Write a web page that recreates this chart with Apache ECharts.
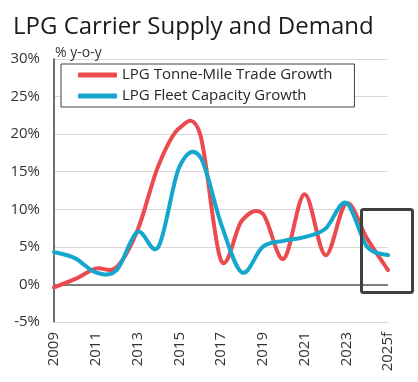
<!DOCTYPE html>
<html>
<head>
<meta charset="utf-8">
<script src="https://cdn.jsdelivr.net/npm/echarts@6/dist/echarts.min.js"></script>
<style>html,body{margin:0;padding:0;background:#fff;}#c{width:418px;height:382px;}</style>
</head>
<body>
<div id="c"></div>
<script>
const years = ['2009','2010','2011','2012','2013','2014','2015','2016','2017','2018','2019','2020','2021','2022','2023','2024','2025f'];
const tradeGrowth = [-0.4, 0.7, 2.1, 2.3, 7.2, 15.8, 20.8, 20.0, 3.2, 8.5, 9.4, 3.4, 12.0, 3.9, 10.8, 6.1, 1.9];
const fleetGrowth = [4.3, 3.5, 1.6, 1.9, 7.0, 5.0, 15.6, 17.0, 8.1, 1.6, 5.0, 5.8, 6.3, 7.4, 10.85, 5.0, 3.9];
const seriesNames = ['LPG Tonne-Mile Trade Growth', 'LPG Fleet Capacity Growth'];

const FONT = 'Open Sans';

// Smooth (Catmull-Rom) line drawn through the axis scales
function splineSeries(name, values, color) {
  return {
    name: name, type: 'custom', coordinateSystem: 'cartesian2d',
    encode: {x: 0, y: 1},
    data: values.map((v, i) => [i, v]),
    itemStyle: {color: color},
    renderItem: function (params, api) {
      if (params.dataIndex !== 0) return null;
      const p = values.map((v, i) => api.coord([i, v]));
      const n = p.length;
      let d = 'M' + p[0][0] + ' ' + p[0][1];
      for (let i = 0; i < n - 1; i++) {
        const p0 = p[Math.max(i - 1, 0)], p1 = p[i], p2 = p[i + 1], p3 = p[Math.min(i + 2, n - 1)];
        const c1x = p1[0] + (p2[0] - p0[0]) / 6, c1y = p1[1] + (p2[1] - p0[1]) / 6;
        const c2x = p2[0] - (p3[0] - p1[0]) / 6, c2y = p2[1] - (p3[1] - p1[1]) / 6;
        d += ' C' + c1x + ' ' + c1y + ' ' + c2x + ' ' + c2y + ' ' + p2[0] + ' ' + p2[1];
      }
      return {
        type: 'path', shape: {pathData: d},
        style: {fill: 'none', stroke: color, lineWidth: 4, lineJoin: 'round', lineCap: 'round'}
      };
    }
  };
}

const red = splineSeries(seriesNames[0], tradeGrowth, '#EB4A4F');
red.markLine = {silent: true, symbol: 'none', label: {show: false}, z: 1,
  lineStyle: {color: '#7f7f7f', width: 2, type: 'solid'}, data: [{yAxis: 0}]};
const blue = splineSeries(seriesNames[1], fleetGrowth, '#14A7CD');

const chart = echarts.init(document.getElementById('c'), null, {renderer: 'canvas'});
chart.setOption({
  animation: false,
  backgroundColor: '#ffffff',
  textStyle: {fontFamily: FONT},
  title: [
    {text: 'LPG Carrier Supply and Demand', left: 8, top: 10,
     textStyle: {fontFamily: FONT, fontSize: 24, fontWeight: 'normal', color: '#1a1a1a'}},
    {text: '% y-o-y', left: 50, top: 41,
     textStyle: {fontFamily: FONT, fontSize: 14, fontWeight: 'normal', color: '#333'}}
  ],
  grid: {left: 54, right: 30, top: 59, bottom: 60},
  legend: {
    orient: 'vertical', left: 61, top: 64,
    backgroundColor: '#fff', borderColor: '#404040', borderWidth: 1,
    padding: [2, 22, 2, 17], itemGap: 3, itemWidth: 39, itemHeight: 5,
    itemTextGap: 5, icon: 'roundRect',
    textStyle: {fontFamily: FONT, fontSize: 15, color: '#262626', lineHeight: 18},
    data: seriesNames
  },
  xAxis: {
    type: 'category', data: years, boundaryGap: false,
    axisLine: {onZero: false, lineStyle: {color: '#d9d9d9', width: 1}},
    axisTick: {show: false},
    axisLabel: {interval: 1, rotate: 90, margin: 10, fontFamily: FONT, fontSize: 15, color: '#333'}
  },
  yAxis: {
    type: 'value', min: -5, max: 30, interval: 5,
    axisLine: {show: true, lineStyle: {color: '#404040', width: 1.5}},
    axisTick: {show: false},
    splitLine: {show: true, lineStyle: {color: '#d9d9d9', width: 1}},
    axisLabel: {formatter: '{value}%', margin: 14, fontFamily: FONT, fontSize: 15, color: '#333'}
  },
  series: [red, blue],
  graphic: [
    {type: 'rect', left: 359, top: 207, z: 100,
     shape: {width: 51, height: 83, r: 2},
     style: {fill: 'none', stroke: '#404040', lineWidth: 3}}
  ]
});
</script>
</body>
</html>
